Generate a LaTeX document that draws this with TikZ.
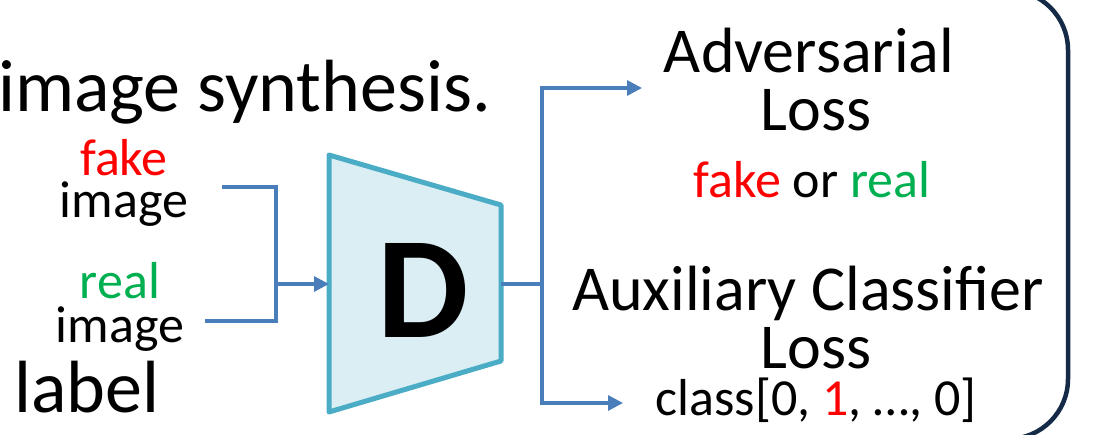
\documentclass[tikz,border=0pt]{standalone}
\usepackage{fontspec}
\setmainfont{Carlito}
\usetikzlibrary{arrows.meta}
\definecolor{flowblue}{HTML}{4A7EBB}
\definecolor{discedge}{HTML}{4BACC6}
\definecolor{discfill}{HTML}{DAEEF3}
\definecolor{bracenavy}{HTML}{142A47}
\definecolor{fakered}{HTML}{FF0000}
\definecolor{realgreen}{HTML}{00B050}
\newcommand{\fsz}[1]{\fontsize{#1}{#1}\selectfont}
\tikzset{
  txt/.style={inner sep=0pt, anchor=base},
  flat/.style={text depth=0pt},
  flow/.style={draw=flowblue, line width=3.2pt},
  flowarrow/.style={flow, -{Triangle[length=15pt, width=15pt]}},
}
\begin{document}
\begin{tikzpicture}[x=1pt, y=-1pt]
  \useasboundingbox (0,0) rectangle (1109,434);
  \clip (0,0) rectangle (1109,434);

  % heading fragments on the left
  \node[txt, anchor=base east] (synth) at (491,111) {\fsz{74}image synthesis.};
  \node[txt, anchor=base west] (lbl) at (14,412) {\fsz{74}label};

  % inputs
  \node[txt, flat] (fake) at (124,175) {\fsz{52}\textcolor{fakered}{fake}};
  \node[txt, text height=34pt] (fimg) at (124,217) {\fsz{52}image};
  \node[txt, flat] (real) at (120,298) {\fsz{52}\textcolor{realgreen}{real}};
  \node[txt, text height=34pt] (rimg) at (120,342) {\fsz{52}image};

  % discriminator
  \draw[draw=discedge, fill=discfill, line width=5pt, line join=round]
    (329,155) -- (501,205) -- (501,361) -- (329,412) -- cycle;
  \node[txt] (D) at (423,337) {\fsz{145}\bfseries D};
  \coordinate (din) at (329,284);
  \coordinate (dout) at (501,284);

  % joining the two inputs
  \coordinate (fin) at (222,187);
  \coordinate (rin) at (205,321);
  \coordinate (join) at (276,284);
  \draw[flow] (fin) -| (join);
  \draw[flow] (rin) -| (join);
  \draw[flowarrow] (join) -- (din);

  % outputs
  \node[txt] (adv) at (809,72) {\fsz{64}Adversarial};
  \node[txt, flat] (advl) at (816,130) {\fsz{64}Loss};
  \node[txt] (fr) at (812,197) {\fsz{52}\textcolor{fakered}{fake} or \textcolor{realgreen}{real}};
  \node[txt] (aux) at (808,310) {\fsz{64}Auxiliary Classifier};
  \node[txt, flat] (auxl) at (816,368) {\fsz{64}Loss};
  \node[txt, text height=38pt] (cls) at (816,415) {\fsz{52}class[0, \textcolor{fakered}{1}, …, 0]};

  \coordinate (split) at (542,284);
  \coordinate (advtip) at (642,88);
  \coordinate (clstip) at (623,403);
  \draw[flow] (dout) -- (split);
  \draw[flowarrow] (split) |- (advtip);
  \draw[flowarrow] (split) |- (clstip);

  % closing bracket on the right
  \draw[draw=bracenavy, line width=4.5pt, rounded corners=60pt]
    (900,-10) -- (1068,-10) -- (1068,439) -- (900,439);
\end{tikzpicture}
\end{document}
